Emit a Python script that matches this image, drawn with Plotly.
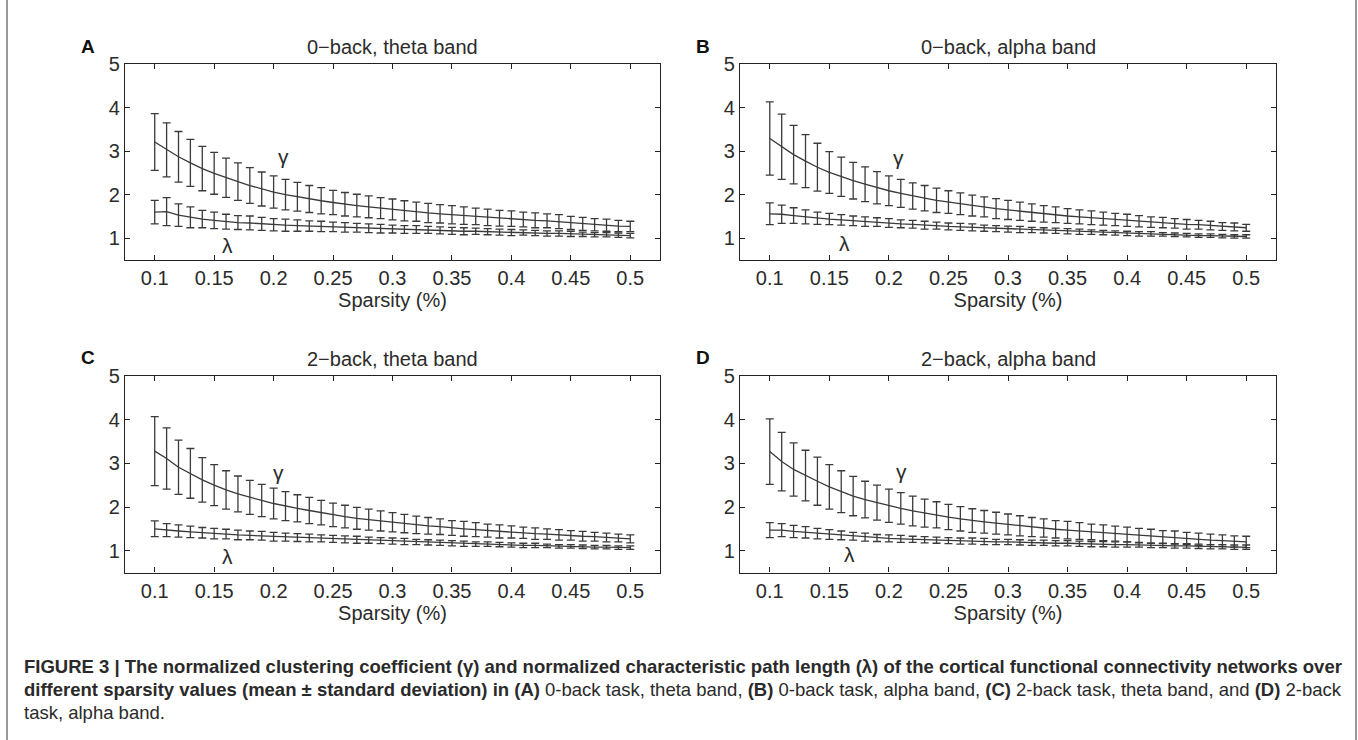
import plotly.graph_objects as go

sparsity = [0.10, 0.11, 0.12, 0.13, 0.14, 0.15, 0.16, 0.17, 0.18, 0.19, 0.20,
            0.21, 0.22, 0.23, 0.24, 0.25, 0.26, 0.27, 0.28, 0.29, 0.30,
            0.31, 0.32, 0.33, 0.34, 0.35, 0.36, 0.37, 0.38, 0.39, 0.40,
            0.41, 0.42, 0.43, 0.44, 0.45, 0.46, 0.47, 0.48, 0.49, 0.50]

# Panel A: 0-back, theta band
A_gamma_mean = [3.21, 3.03, 2.87, 2.73, 2.60, 2.49, 2.39, 2.30, 2.21, 2.13, 2.06,
                2.00, 1.95, 1.90, 1.86, 1.82, 1.78, 1.75, 1.72, 1.69, 1.66,
                1.63, 1.61, 1.58, 1.56, 1.54, 1.52, 1.50, 1.48, 1.46, 1.45,
                1.43, 1.41, 1.40, 1.38, 1.35, 1.33, 1.31, 1.30, 1.28, 1.27]
A_gamma_sd = [0.65, 0.62, 0.58, 0.54, 0.51, 0.48, 0.45, 0.43, 0.41, 0.39, 0.37,
              0.35, 0.33, 0.31, 0.30, 0.28, 0.27, 0.26, 0.25, 0.24, 0.24,
              0.23, 0.22, 0.22, 0.21, 0.21, 0.20, 0.19, 0.19, 0.18, 0.18,
              0.17, 0.17, 0.16, 0.16, 0.15, 0.15, 0.14, 0.14, 0.13, 0.12]
A_lambda_mean = [1.60, 1.61, 1.53, 1.48, 1.44, 1.41, 1.38, 1.36, 1.35, 1.33, 1.31,
                 1.30, 1.29, 1.28, 1.27, 1.26, 1.25, 1.24, 1.23, 1.22, 1.21,
                 1.20, 1.20, 1.19, 1.18, 1.17, 1.16, 1.16, 1.15, 1.14, 1.13,
                 1.13, 1.12, 1.11, 1.11, 1.10, 1.09, 1.08, 1.08, 1.07, 1.06]
A_lambda_sd = [0.27, 0.32, 0.26, 0.24, 0.20, 0.19, 0.17, 0.16, 0.16, 0.15, 0.14,
               0.14, 0.13, 0.12, 0.12, 0.11, 0.11, 0.10, 0.10, 0.10, 0.09,
               0.09, 0.09, 0.08, 0.08, 0.08, 0.08, 0.07, 0.07, 0.07, 0.07,
               0.06, 0.06, 0.06, 0.06, 0.06, 0.05, 0.05, 0.05, 0.05, 0.05]

# Panel B: 0-back, alpha band
B_gamma_mean = [3.29, 3.10, 2.92, 2.77, 2.63, 2.51, 2.41, 2.32, 2.24, 2.16, 2.09,
                2.03, 1.97, 1.92, 1.87, 1.83, 1.79, 1.75, 1.72, 1.68, 1.65,
                1.62, 1.59, 1.56, 1.54, 1.51, 1.49, 1.47, 1.45, 1.43, 1.41,
                1.39, 1.37, 1.36, 1.34, 1.32, 1.31, 1.29, 1.27, 1.26, 1.24]
B_gamma_sd = [0.84, 0.75, 0.67, 0.61, 0.55, 0.48, 0.45, 0.42, 0.40, 0.37, 0.34,
              0.32, 0.30, 0.29, 0.28, 0.26, 0.25, 0.24, 0.23, 0.23, 0.22,
              0.21, 0.20, 0.19, 0.18, 0.17, 0.16, 0.16, 0.15, 0.14, 0.14,
              0.13, 0.12, 0.12, 0.11, 0.11, 0.10, 0.10, 0.09, 0.09, 0.08]
B_lambda_mean = [1.56, 1.55, 1.52, 1.49, 1.46, 1.44, 1.42, 1.40, 1.38, 1.37, 1.35,
                 1.33, 1.32, 1.30, 1.29, 1.27, 1.26, 1.25, 1.23, 1.22, 1.21,
                 1.20, 1.19, 1.18, 1.17, 1.16, 1.15, 1.14, 1.13, 1.12, 1.11,
                 1.10, 1.10, 1.09, 1.08, 1.07, 1.06, 1.06, 1.05, 1.04, 1.04]
B_lambda_sd = [0.25, 0.21, 0.18, 0.16, 0.14, 0.13, 0.12, 0.11, 0.11, 0.10, 0.10,
               0.09, 0.09, 0.09, 0.08, 0.08, 0.08, 0.08, 0.07, 0.07, 0.07,
               0.07, 0.06, 0.06, 0.06, 0.06, 0.06, 0.05, 0.05, 0.05, 0.05,
               0.05, 0.05, 0.04, 0.04, 0.04, 0.04, 0.04, 0.04, 0.04, 0.04]

# Panel C: 2-back, theta band
C_gamma_mean = [3.28, 3.11, 2.91, 2.77, 2.62, 2.50, 2.39, 2.30, 2.22, 2.15, 2.08,
                2.02, 1.97, 1.92, 1.87, 1.82, 1.78, 1.74, 1.71, 1.68, 1.65,
                1.62, 1.59, 1.57, 1.55, 1.52, 1.50, 1.48, 1.46, 1.44, 1.43,
                1.41, 1.39, 1.38, 1.36, 1.35, 1.33, 1.32, 1.30, 1.29, 1.27]
C_gamma_sd = [0.79, 0.70, 0.62, 0.57, 0.51, 0.47, 0.44, 0.41, 0.39, 0.37, 0.35,
              0.33, 0.31, 0.30, 0.28, 0.27, 0.26, 0.25, 0.24, 0.23, 0.22,
              0.21, 0.20, 0.19, 0.18, 0.17, 0.17, 0.16, 0.15, 0.15, 0.14,
              0.13, 0.13, 0.12, 0.12, 0.11, 0.11, 0.10, 0.10, 0.09, 0.09]
C_lambda_mean = [1.50, 1.47, 1.45, 1.43, 1.41, 1.39, 1.38, 1.36, 1.35, 1.34, 1.32,
                 1.31, 1.30, 1.29, 1.28, 1.27, 1.26, 1.25, 1.24, 1.23, 1.22,
                 1.21, 1.20, 1.19, 1.18, 1.17, 1.16, 1.15, 1.15, 1.14, 1.13,
                 1.12, 1.12, 1.11, 1.10, 1.10, 1.09, 1.08, 1.08, 1.07, 1.07]
C_lambda_sd = [0.18, 0.15, 0.14, 0.13, 0.12, 0.12, 0.11, 0.11, 0.10, 0.10, 0.10,
               0.09, 0.09, 0.09, 0.08, 0.08, 0.08, 0.08, 0.07, 0.07, 0.07,
               0.07, 0.06, 0.06, 0.06, 0.06, 0.06, 0.05, 0.05, 0.05, 0.05,
               0.05, 0.05, 0.04, 0.04, 0.04, 0.04, 0.04, 0.04, 0.04, 0.04]

# Panel D: 2-back, alpha band
D_gamma_mean = [3.27, 3.04, 2.86, 2.72, 2.59, 2.46, 2.35, 2.25, 2.17, 2.10, 2.03,
                1.97, 1.91, 1.86, 1.82, 1.77, 1.73, 1.69, 1.66, 1.63, 1.60,
                1.57, 1.54, 1.52, 1.49, 1.47, 1.45, 1.43, 1.41, 1.39, 1.37,
                1.35, 1.33, 1.31, 1.30, 1.28, 1.26, 1.24, 1.23, 1.21, 1.20]
D_gamma_sd = [0.75, 0.67, 0.61, 0.58, 0.55, 0.51, 0.48, 0.45, 0.42, 0.40, 0.38,
              0.36, 0.34, 0.32, 0.30, 0.29, 0.28, 0.27, 0.26, 0.25, 0.24,
              0.23, 0.22, 0.21, 0.20, 0.20, 0.19, 0.18, 0.18, 0.17, 0.17,
              0.16, 0.16, 0.15, 0.15, 0.14, 0.14, 0.14, 0.13, 0.13, 0.13]
D_lambda_mean = [1.47, 1.47, 1.44, 1.42, 1.39, 1.37, 1.35, 1.33, 1.31, 1.29, 1.28,
                 1.27, 1.26, 1.25, 1.24, 1.23, 1.22, 1.22, 1.21, 1.20, 1.20,
                 1.19, 1.18, 1.18, 1.17, 1.17, 1.16, 1.15, 1.15, 1.14, 1.14,
                 1.13, 1.12, 1.12, 1.11, 1.11, 1.10, 1.09, 1.09, 1.08, 1.08]
D_lambda_sd = [0.17, 0.15, 0.14, 0.13, 0.12, 0.11, 0.10, 0.09, 0.09, 0.08, 0.08,
               0.08, 0.07, 0.07, 0.07, 0.07, 0.07, 0.07, 0.07, 0.06, 0.06,
               0.06, 0.06, 0.06, 0.06, 0.06, 0.06, 0.06, 0.06, 0.06, 0.06,
               0.05, 0.05, 0.05, 0.05, 0.05, 0.05, 0.05, 0.05, 0.05, 0.05]

panel_letters = ["A", "B", "C", "D"]
panel_titles = ["0\u2212back, theta band", "0\u2212back, alpha band",
                "2\u2212back, theta band", "2\u2212back, alpha band"]
x_tickvals = [0.1, 0.15, 0.2, 0.25, 0.3, 0.35, 0.4, 0.45, 0.5]
x_ticktext = ["0.1", "0.15", "0.2", "0.25", "0.3", "0.35", "0.4", "0.45", "0.5"]
y_tickvals = [1, 2, 3, 4, 5]
x_title = "Sparsity (%)"
# label positions (data coords) for gamma / lambda
gamma_label_pos = [(0.208, 2.87), (0.208, 2.86), (0.204, 2.79), (0.211, 2.81)]
lambda_label_pos = [(0.161, 0.84), (0.163, 0.88), (0.161, 0.87), (0.167, 0.92)]

panels = [
    (A_gamma_mean, A_gamma_sd, A_lambda_mean, A_lambda_sd),
    (B_gamma_mean, B_gamma_sd, B_lambda_mean, B_lambda_sd),
    (C_gamma_mean, C_gamma_sd, C_lambda_mean, C_lambda_sd),
    (D_gamma_mean, D_gamma_sd, D_lambda_mean, D_lambda_sd),
]

W, H = 1358, 740
# plot boxes in pixels (left, right, top, bottom)
boxes = [(125, 660, 64, 260), (740, 1276, 64, 260),
         (125, 660, 376, 572.5), (740, 1276, 376, 572.5)]

FONT = "Liberation Sans, Arial, Helvetica, sans-serif"
INK = "#2b2b2b"
LINE = "#3a3a3a"

fig = go.Figure()
annotations = []
shapes = []

for i, (gm, gs, lm, ls) in enumerate(panels):
    n = i + 1
    xa = "x" if n == 1 else f"x{n}"
    ya = "y" if n == 1 else f"y{n}"
    for mean, sd in ((gm, gs), (lm, ls)):
        fig.add_trace(go.Scatter(
            x=sparsity, y=mean, mode="lines",
            line=dict(color=LINE, width=1.3),
            error_y=dict(type="data", array=sd, visible=True,
                         color=LINE, thickness=1.3, width=4),
            xaxis=xa, yaxis=ya, showlegend=False, hoverinfo="skip"))
    l, r, t, b = boxes[i]
    xdom = [l / W, r / W]
    ydom = [1 - b / H, 1 - t / H]
    axis_common = dict(showline=True, linecolor="#222", linewidth=1.2,
                       mirror="allticks", ticks="inside", ticklen=5,
                       tickcolor="#222", tickwidth=1, showgrid=False,
                       zeroline=False, automargin=False,
                       tickfont=dict(family=FONT, size=20, color=INK))
    fig.update_layout(**{
        ("xaxis" if n == 1 else f"xaxis{n}"): dict(
            domain=xdom, range=[0.075, 0.525], tickvals=x_tickvals,
            ticktext=x_ticktext, anchor=ya,
            title=dict(text=x_title, font=dict(family=FONT, size=20, color=INK),
                       standoff=0),
            **axis_common),
        ("yaxis" if n == 1 else f"yaxis{n}"): dict(
            domain=ydom, range=[0.5, 5], tickvals=y_tickvals, anchor=xa,
            **axis_common),
    })
    annotations.append(dict(
        x=(l + r) / 2 / W, y=1 - (t - 17) / H, xref="paper", yref="paper",
        text=panel_titles[i], showarrow=False, xanchor="center", yanchor="middle",
        font=dict(family=FONT, size=20, color=INK)))
    annotations.append(dict(
        x=(l - 37) / W, y=1 - (t - 18) / H, xref="paper", yref="paper",
        text="<b>" + panel_letters[i] + "</b>", showarrow=False,
        xanchor="center", yanchor="middle",
        font=dict(family=FONT, size=19, color="#111")))
    gx, gy = gamma_label_pos[i]
    lx, ly = lambda_label_pos[i]
    annotations.append(dict(x=gx, y=gy, xref=xa, yref=ya, text="\u03b3",
                            showarrow=False, font=dict(family=FONT, size=21, color=INK)))
    annotations.append(dict(x=lx, y=ly, xref=xa, yref=ya, text="\u03bb",
                            showarrow=False, font=dict(family=FONT, size=21, color=INK)))

caption_lines = [
    "<b>FIGURE 3 | The normalized clustering coefficient (\u03b3) and normalized characteristic path length (\u03bb) of the cortical functional connectivity networks over</b>",
    "<b>different sparsity values (mean \u00b1 standard deviation) in (A)</b> 0-back task, theta band, <b>(B)</b> 0-back task, alpha band, <b>(C)</b> 2-back task, theta band, and <b>(D)</b> 2-back",
    "task, alpha band.",
]
cap_y = [666, 689, 712]
for txt, yy in zip(caption_lines, cap_y):
    annotations.append(dict(x=22 / W, y=1 - yy / H, xref="paper", yref="paper",
                            text=txt, showarrow=False, xanchor="left", yanchor="middle",
                            align="left", font=dict(family=FONT, size=18.5, color="#2a2a2a")))

for xp in (7, 1356):
    shapes.append(dict(type="line", xref="paper", yref="paper",
                       x0=xp / W, x1=xp / W, y0=0, y1=1,
                       line=dict(color="#9a9a9a", width=2)))

fig.update_layout(width=W, height=H, margin=dict(l=0, r=0, t=0, b=0, autoexpand=False),
                  paper_bgcolor="white", plot_bgcolor="white",
                  annotations=annotations, shapes=shapes,
                  font=dict(family=FONT, color=INK))

fig.write_html("out.html", config={"displayModeBar": False},
               post_script="document.body.style.margin='0';document.body.style.overflow='hidden';")
